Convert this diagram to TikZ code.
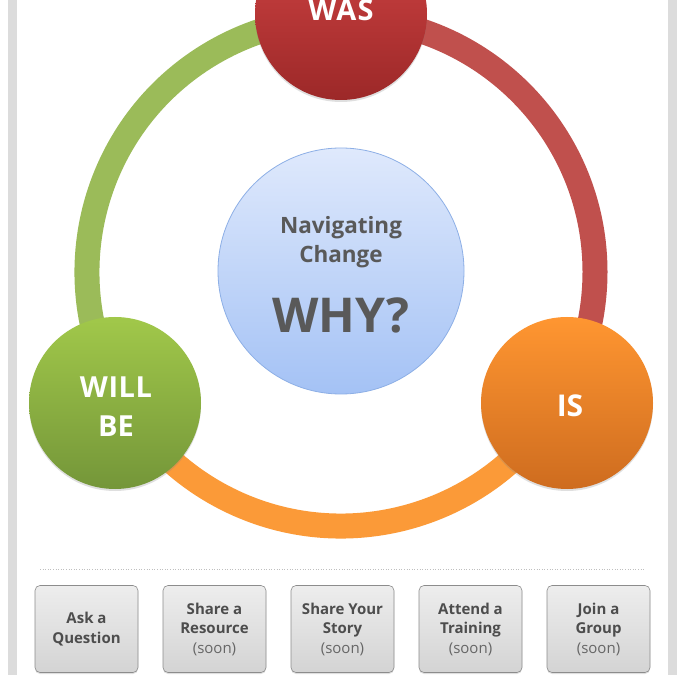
\documentclass[tikz,border=0pt]{standalone}
\usepackage{fontspec}
\setmainfont{Open Sans}
\usetikzlibrary{shadows,calc}
\definecolor{ringred}{HTML}{C0504D}
\definecolor{ringorange}{HTML}{FB9A38}
\definecolor{ringgreen}{HTML}{9BBB59}
\definecolor{sidebar}{HTML}{DCDCDC}
\definecolor{txtgray}{HTML}{595959}
\definecolor{btntxt}{HTML}{4D4D4D}
\definecolor{ctop}{HTML}{DFE9FC}
\definecolor{cbot}{HTML}{A4C2F5}
\definecolor{cborder}{HTML}{8DAFE6}
\definecolor{wastop}{HTML}{D24545}
\definecolor{wasbot}{HTML}{9C2828}
\definecolor{istop}{HTML}{FF9631}
\definecolor{isbot}{HTML}{CE6C1F}
\definecolor{wbtop}{HTML}{A1C84A}
\definecolor{wbbot}{HTML}{749639}
\tikzset{
  ringline/.style={line width=25pt},
  bigdot/.style={circle, minimum size=172pt, inner sep=0pt,
    drop shadow={opacity=0.25, shadow xshift=0pt, shadow yshift=-2pt}},
  dotlabel/.style={text=white, font=\bfseries, anchor=base},
  btn/.style={rounded corners=5pt, minimum width=103pt, minimum height=87pt,
    top color=white!93!black, bottom color=white!83!black, draw=black!45, line width=0.6pt,
    drop shadow={opacity=0.25, shadow xshift=0pt, shadow yshift=-1.5pt},
    align=center, text=btntxt, font=\fontsize{15}{19.5}\selectfont\bfseries}
}
\newcommand{\soontxt}{{\mdseries\color{black!60}(soon)}}
\begin{document}
\begin{tikzpicture}[x=1pt,y=1pt]
\useasboundingbox (0,0) rectangle (685,675);
\fill[white] (0,0) rectangle (685,675);
\fill[sidebar] (8,0) rectangle (17,675);
\fill[sidebar] (668,0) rectangle (677,675);

% ring
\coordinate (ring) at (341,403);
\draw[ringline, ringred] (ring) ++(90:254pt) arc[start angle=90, end angle=-32, radius=254pt];
\draw[ringline, ringorange] (ring) ++(-28:254pt) arc[start angle=-28, end angle=-150, radius=254pt];
\draw[ringline, ringgreen] (ring) ++(210:254pt) arc[start angle=210, end angle=90, radius=254pt];

% central circle
\node[circle, minimum size=246pt, inner sep=0pt, top color=ctop, bottom color=cbot,
      draw=cborder, line width=0.8pt] (center) at (341,404) {};
\node[anchor=base, text=txtgray, font=\fontsize{22.5}{29}\selectfont\bfseries] (nav) at (341,441.5) {Navigating};
\node[anchor=base, text=txtgray, font=\fontsize{22.5}{29}\selectfont\bfseries] (chg) at (341,412.5) {Change};
\node[anchor=base, text=txtgray, font=\fontsize{48}{52}\selectfont\bfseries] (why) at (341,342) {WHY?};

% outer circles
\node[bigdot, top color=wastop, bottom color=wasbot] (was) at (341,661) {};
\node[bigdot, top color=istop, bottom color=isbot] (is) at (567,272) {};
\node[bigdot, top color=wbtop, bottom color=wbbot] (willbe) at (115,272) {};

\node[dotlabel, font=\fontsize{29}{32}\selectfont\bfseries\addfontfeature{LetterSpace=4}] (waslbl) at (341,654) {WAS};
\node[dotlabel, font=\fontsize{30}{34}\selectfont\bfseries] (islbl) at (570,258) {IS};
\node[dotlabel, font=\fontsize{29}{34}\selectfont\bfseries\addfontfeature{LetterSpace=2}] (willlbl) at (116,277) {WILL};
\node[dotlabel, font=\fontsize{29}{34}\selectfont\bfseries] (belbl) at (116,238) {BE};

% separator
\coordinate (sepL) at (40,106);
\coordinate (sepR) at (645,106);
\draw[black!25, dotted, line width=0.6pt] (sepL) -- (sepR);

% buttons
\node[btn] (b1) at (86.5,46) {Ask a\\Question};
\node[btn] (b2) at (214.5,46) {Share a\\Resource\\\soontxt};
\node[btn] (b3) at (342.5,46) {Share Your\\Story\\\soontxt};
\node[btn] (b4) at (470.5,46) {Attend a\\Training\\\soontxt};
\node[btn] (b5) at (598.5,46) {Join a\\Group\\\soontxt};
\end{tikzpicture}
\end{document}
